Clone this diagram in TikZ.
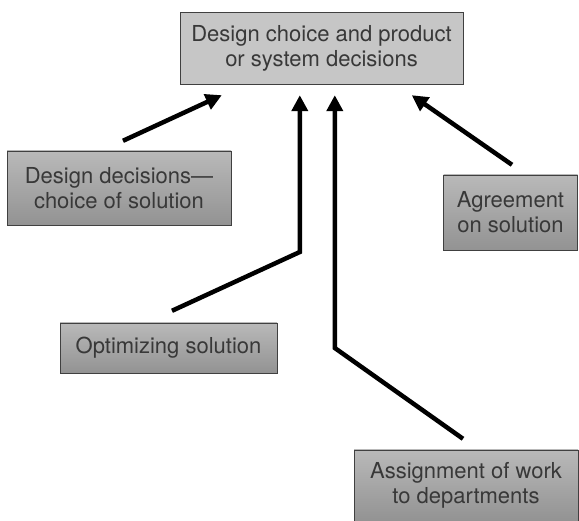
\documentclass[tikz,border=0pt]{standalone}
\usepackage{fontspec}
\setmainfont{TeX Gyre Heros}
\usepackage{tikz}
\usetikzlibrary{positioning,arrows.meta,calc}
\definecolor{boxline}{HTML}{404040}
\definecolor{boxtext}{HTML}{383838}

\begin{document}
\begin{tikzpicture}[x=1pt, y=-1pt,
   mainbox/.style={draw=boxline, fill=gray!45, minimum width=283pt, minimum height=72pt,
                   align=center, text=boxtext, inner sep=0pt, font=\fontsize{22}{25}\selectfont},
   inbox/.style={draw=boxline, top color=gray!55, bottom color=gray!85, align=center,
                 text=boxtext, inner sep=0pt, font=\fontsize{22}{25}\selectfont},
   flow/.style={line width=4.5pt, -{Triangle[length=16pt,width=16pt]}}]
  \useasboundingbox (0,0) rectangle (579,521);

  \node[mainbox] (choice) at (321.5,48) {Design choice and product\\or system decisions};
  \node[inbox, minimum width=224pt, minimum height=74pt] (design) at (119,188) {Design decisions---\\choice of solution};
  \node[inbox, minimum width=134pt, minimum height=75pt] (agree) at (510.5,212.5) {Agreement\\on solution};
  \node[inbox, minimum width=217pt, minimum height=50pt] (optim) at (168.5,348) {Optimizing solution};
  \node[inbox, minimum width=224pt, minimum height=71pt] (assign) at (466,485.5) {Assignment of work\\to departments};

  % ends of the arrows under the top box
  \coordinate (in1) at ($(choice.south west)+(42,11)$);
  \coordinate (in2) at ($(choice.south west)+(120,11)$);
  \coordinate (in3) at ($(choice.south west)+(155,11)$);
  \coordinate (in4) at ($(choice.south west)+(232,11)$);
  % free ends next to the boxes
  \coordinate (design-out) at ($(design.north)+(4,-10)$);
  \coordinate (optim-out) at ($(optim.north)+(3.5,-12)$);
  \coordinate (assign-out) at ($(assign.north)+(-3,-11)$);
  \coordinate (agree-out) at ($(agree.north)+(1.5,-10)$);

  \draw[flow] (design-out) -- (in1);
  \draw[flow] (optim-out) -- (in2 |- 0,252) -- (in2);
  \draw[flow] (assign-out) -- (in3 |- 0,348) -- (in3);
  \draw[flow] (agree-out) -- (in4);
\end{tikzpicture}
\end{document}
